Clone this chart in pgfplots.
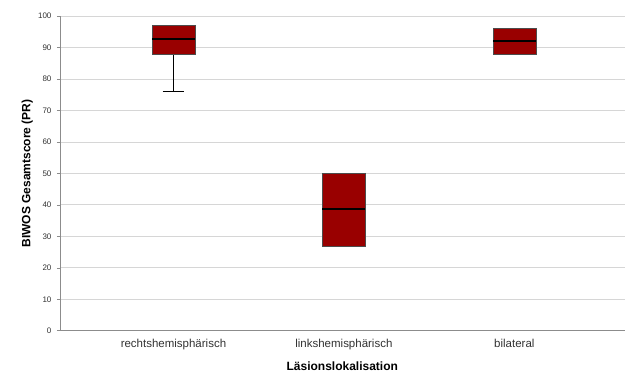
\documentclass[border=0pt]{standalone}
\usepackage{fontspec}
\setmainfont{Liberation Sans}
\usepackage{pgfplots}
\pgfplotsset{compat=1.18}
\usepgfplotslibrary{statistics}

\definecolor{boxred}{RGB}{153,0,0}
\definecolor{gridgray}{RGB}{214,214,214}
\definecolor{axisgray}{RGB}{140,140,140}
\definecolor{ticktext}{RGB}{50,50,50}

\begin{document}
\begin{tikzpicture}
% fixed canvas
\path (0,0) rectangle (625pt,379pt);
\begin{axis}[
  at={(60pt,48pt)}, anchor=south west,
  scale only axis,
  width=565pt, height=315pt,
  xmin=0.334, xmax=3.647,
  ymin=0, ymax=100,
  ytick={0,10,...,100},
  xtick={1,2,3},
  xticklabels={rechtshemisphärisch,linkshemisphärisch,bilateral},
  /pgf/number format/assume math mode=true,
  axis x line*=bottom,
  axis y line*=left,
  axis line style={axisgray, line width=0.8pt},
  ymajorgrids,
  major grid style={gridgray, line width=0.8pt},
  x tick style={draw=none},
  y tick style={axisgray, line width=0.6pt},
  tick align=outside,
  major tick length=3pt,
  yticklabel style={font=\fontsize{8}{9.5}\selectfont, text=ticktext, xshift=-2pt},
  xticklabel style={font=\fontsize{11.5}{13.5}\selectfont, text=ticktext, yshift=-2pt},
  xlabel={Läsionslokalisation},
  ylabel={BIWOS Gesamtscore (PR)},
  label style={font=\fontsize{12}{14}\selectfont\bfseries},
  xlabel style={at={(axis description cs:0.5,-0.114)}, anchor=center},
  ylabel style={at={(axis description cs:-0.058,0.5)}, anchor=center},
  boxplot/draw direction=y,
  boxplot/box extend=0.252,
  boxplot/whisker extend=0.123,
  clip=false,
]
% rechtshemisphaerisch
\addplot+[boxplot prepared={
    lower whisker=76, lower quartile=88, median=92.6,
    upper quartile=97, upper whisker=97, draw position=1},
  fill=boxred, draw=black!70, line width=0.5pt,
  boxplot/every whisker/.style={black, line width=1.1pt},
  boxplot/every median/.style={black, line width=1.6pt},
  mark=none] coordinates {};
% linkshemisphaerisch
\addplot+[boxplot prepared={
    lower whisker=27, lower quartile=27, median=38.6,
    upper quartile=50, upper whisker=50, draw position=2},
  fill=boxred, draw=black!70, line width=0.5pt,
  boxplot/every whisker/.style={black, line width=1.1pt},
  boxplot/every median/.style={black, line width=1.6pt},
  mark=none] coordinates {};
% bilateral
\addplot+[boxplot prepared={
    lower whisker=88, lower quartile=88, median=92,
    upper quartile=96, upper whisker=96, draw position=3},
  fill=boxred, draw=black!70, line width=0.5pt,
  boxplot/every whisker/.style={black, line width=1.1pt},
  boxplot/every median/.style={black, line width=1.6pt},
  mark=none] coordinates {};
\end{axis}
\end{tikzpicture}
\end{document}
